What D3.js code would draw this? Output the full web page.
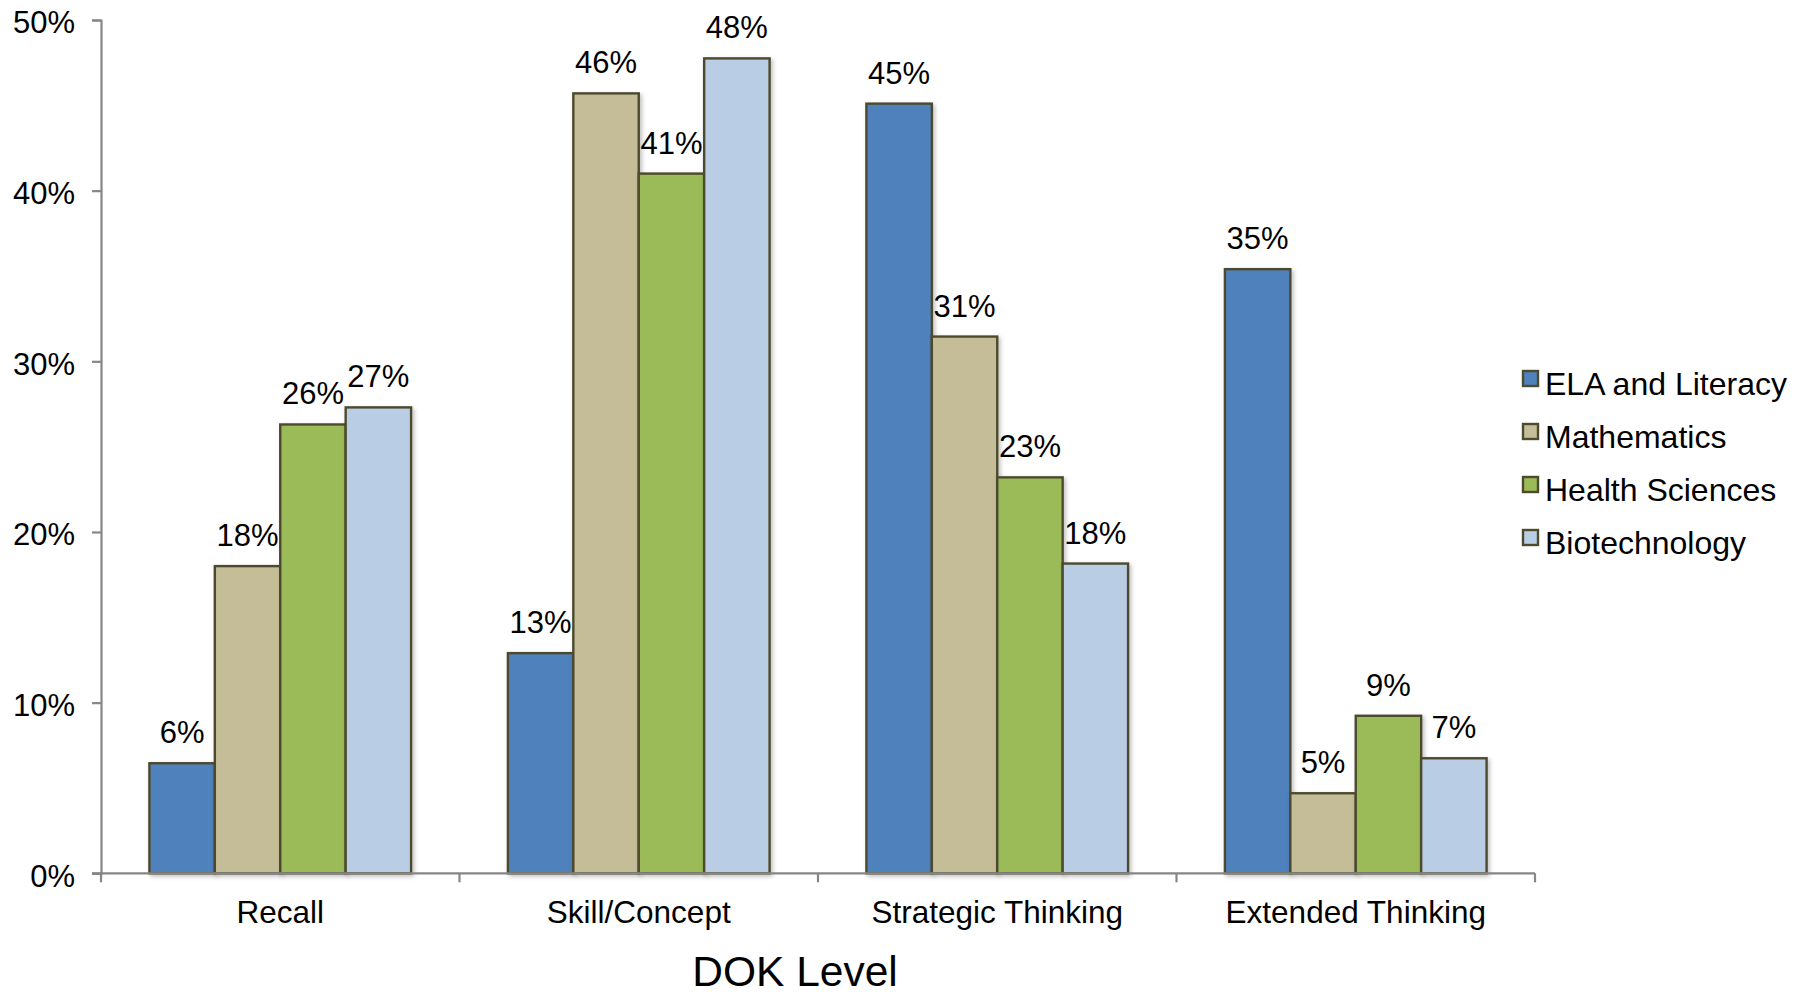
<!DOCTYPE html>
<html>
<head>
<meta charset="utf-8">
<script src="https://cdn.jsdelivr.net/npm/d3@7"></script>
<style>
  html, body { margin: 0; padding: 0; background: #ffffff; }
  svg { display: block; font-family: "Liberation Sans", Arial, sans-serif; }
</style>
</head>
<body>
<svg id="chart" width="1807" height="995"></svg>
<script>
// DOK levels on the x axis
const categories = ["Recall", "Skill/Concept", "Strategic Thinking", "Extended Thinking"];

// Subject series
const seriesNames = ["ELA and Literacy", "Mathematics", "Health Sciences", "Biotechnology"];
const seriesColors = ["#4F81BD", "#C4BD97", "#9BBB59", "#B9CDE5"];

// Share of items at each DOK level, per subject (fractions)
const elaValues     = [0.0645, 0.129, 0.451, 0.354];
const mathValues    = [0.180, 0.457, 0.3145, 0.0469];
const healthValues  = [0.263, 0.410, 0.232, 0.0923];
const biotechValues = [0.273, 0.4775, 0.1815, 0.0674];

// Y axis tick values
const yTicks = [0, 0.1, 0.2, 0.3, 0.4, 0.5];

const seriesValues = [elaValues, mathValues, healthValues, biotechValues];

const svg = d3.select("#chart");

const plot = { left: 101, right: 1535, top: 20, bottom: 873.3 };

const x0 = d3.scaleBand()
  .domain(categories)
  .range([plot.left, plot.right])
  .padding(0);

const x1 = d3.scaleBand()
  .domain(seriesNames)
  .range([0, x0.bandwidth()])
  .paddingInner(0)
  .paddingOuter(0.74);

const y = d3.scaleLinear()
  .domain([0, 0.5])
  .range([plot.bottom, plot.top]);

const color = d3.scaleOrdinal().domain(seriesNames).range(seriesColors);
const pct = d3.format(".0%");

// soft shadow under the bars
const defs = svg.append("defs");
const shadow = defs.append("filter")
  .attr("id", "barShadow")
  .attr("x", "-20%").attr("y", "-20%")
  .attr("width", "140%").attr("height", "140%");
shadow.append("feDropShadow")
  .attr("dx", 2).attr("dy", 2)
  .attr("stdDeviation", 2)
  .attr("flood-color", "#000")
  .attr("flood-opacity", 0.25);

// flatten to one record per bar
const bars = [];
categories.forEach((cat, ci) => {
  seriesNames.forEach((name, si) => {
    bars.push({ category: cat, series: name, value: seriesValues[si][ci] });
  });
});

const axisColor = "#868686";

// Y axis
const yAxis = d3.axisLeft(y)
  .tickValues(yTicks)
  .tickFormat(pct)
  .tickSize(9)
  .tickPadding(17);

const yG = svg.append("g")
  .attr("transform", `translate(${plot.left},0)`)
  .call(yAxis);
yG.select(".domain").attr("stroke", axisColor).attr("stroke-width", 2.2);
yG.selectAll(".tick line").attr("stroke", axisColor).attr("stroke-width", 2.2);
yG.selectAll(".tick text")
  .attr("fill", "#000")
  .attr("y", 3)
  .style("font-size", "31px")
  .style("font-family", "'Liberation Sans', Arial, sans-serif");

// bars
const barG = svg.append("g");
barG.selectAll("rect")
  .data(bars)
  .join("rect")
  .attr("x", d => x0(d.category) + x1(d.series))
  .attr("y", d => y(d.value))
  .attr("width", x1.bandwidth())
  .attr("height", d => y(0) - y(d.value))
  .attr("fill", d => color(d.series))
  .attr("stroke", "#4D4A2E")
  .attr("stroke-width", 2.4)
  .attr("filter", "url(#barShadow)");

// value labels
svg.append("g")
  .selectAll("text")
  .data(bars)
  .join("text")
  .attr("x", d => x0(d.category) + x1(d.series) + x1.bandwidth() / 2)
  .attr("y", d => y(d.value) - 20)
  .attr("text-anchor", "middle")
  .style("font-size", "31px")
  .attr("fill", "#000")
  .text(d => pct(Math.round(d.value * 100) / 100));

// X axis with ticks between categories
const xAxis = d3.axisBottom(x0).tickSize(0).tickPadding(0);
const xG = svg.append("g")
  .attr("transform", `translate(0,${plot.bottom})`)
  .call(xAxis);
xG.select(".domain").remove();
xG.append("line")
  .attr("x1", plot.left - 9).attr("x2", plot.right)
  .attr("y1", 0).attr("y2", 0)
  .attr("stroke", axisColor).attr("stroke-width", 2.2);
const boundaries = categories.map(c => x0(c)).concat([x0.range()[1]]);
xG.selectAll(".sep")
  .data(boundaries)
  .join("line")
  .attr("class", "sep")
  .attr("x1", d => d).attr("x2", d => d)
  .attr("y1", 0).attr("y2", 9)
  .attr("stroke", axisColor).attr("stroke-width", 2.2);
xG.selectAll(".tick text")
  .attr("fill", "#000")
  .style("font-size", "31.5px")
  .style("font-family", "'Liberation Sans', Arial, sans-serif")
  .attr("y", 50)
  .attr("dy", 0);

// X axis title
svg.append("text")
  .attr("x", 795)
  .attr("y", 986)
  .attr("text-anchor", "middle")
  .style("font-size", "42.5px")
  .attr("fill", "#000")
  .text("DOK Level");

// legend
const legend = svg.append("g").attr("transform", "translate(1523,371)");
const rows = legend.selectAll("g")
  .data(seriesNames)
  .join("g")
  .attr("transform", (d, i) => `translate(0,${i * 53})`);
rows.append("rect")
  .attr("x", 0).attr("y", 0)
  .attr("width", 15).attr("height", 15)
  .attr("fill", d => color(d))
  .attr("stroke", "#4D4A2E")
  .attr("stroke-width", 2.4);
rows.append("text")
  .attr("x", 22)
  .attr("y", 24)
  .style("font-size", "32px")
  .attr("fill", "#000")
  .text(d => d);
</script>
</body>
</html>
